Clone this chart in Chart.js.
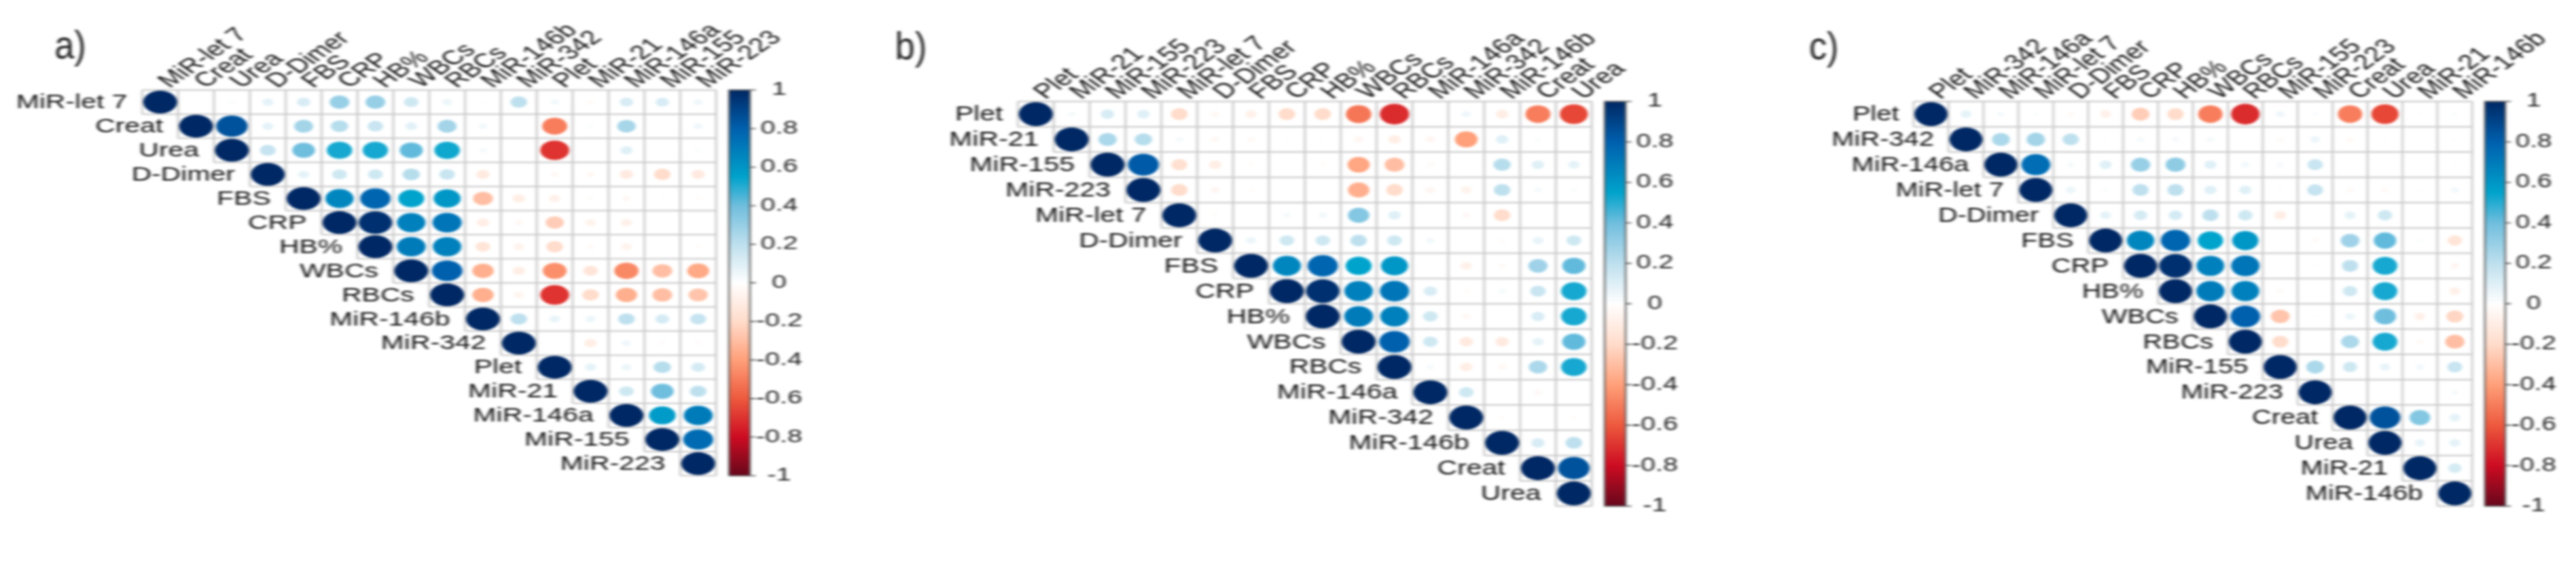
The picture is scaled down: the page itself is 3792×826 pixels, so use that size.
<!DOCTYPE html>
<html>
<head>
<meta charset="utf-8">
<style>
  html, body { margin: 0; padding: 0; background: #fff; }
  body { width: 3792px; height: 826px; overflow: hidden; position: relative; }
  .panel { position: absolute; transform-origin: 0 0; filter: blur(1.5px); }
</style>
<script src="https://cdn.jsdelivr.net/npm/chart.js@4"></script>
</head>
<body>
<script>
// variable order of each panel (hierarchical ordering differs per group)
const labelsA = ['MiR-let 7','Creat','Urea','D-Dimer','FBS','CRP','HB%','WBCs','RBCs','MiR-146b','MiR-342','Plet','MiR-21','MiR-146a','MiR-155','MiR-223'];
const labelsB = ['Plet','MiR-21','MiR-155','MiR-223','MiR-let 7','D-Dimer','FBS','CRP','HB%','WBCs','RBCs','MiR-146a','MiR-342','MiR-146b','Creat','Urea'];
const labelsC = ['Plet','MiR-342','MiR-146a','MiR-let 7','D-Dimer','FBS','CRP','HB%','WBCs','RBCs','MiR-155','MiR-223','Creat','Urea','MiR-21','MiR-146b'];

// upper triangles, each row starts on the diagonal
const valuesA = [
  [1,0,.02,.08,.12,.3,.3,.15,.06,-.01,.2,.04,-.03,.12,.12,.05],
  [1,.85,.08,.27,.22,.17,.09,.27,.04,0,-.5,.02,.26,-.005,.05],
  [1,.18,.4,.52,.52,.42,.53,.03,0,-.7,0,.1,-.01,.02],
  [1,.08,.15,.15,.22,.17,-.12,0,-.04,-.04,-.12,-.2,-.12],
  [1,.66,.78,.55,.6,-.3,-.1,-.08,-.02,-.04,-.01,-.02],
  [1,.97,.68,.72,-.1,-.04,-.25,-.07,-.08,0,-.005],
  [1,.7,.68,-.15,-.07,-.2,-.03,-.07,0,-.02],
  [1,.8,-.35,-.1,-.45,-.15,-.47,-.3,-.37],
  [1,-.35,-.06,-.7,-.2,-.35,-.3,-.28],
  [1,.2,.07,.06,.2,.13,.18],
  [1,.005,-.1,.05,-.02,-.02],
  [1,.08,.06,.22,.13],
  [1,.15,.4,.2],
  [1,.58,.7],
  [1,.76],
  [1]
];
const valuesB = [
  [1,.03,.12,.1,-.2,-.04,-.08,-.2,-.2,-.52,-.72,0,.05,-.1,-.5,-.65],
  [1,.25,.22,.03,-.04,-.03,-.01,-.01,-.05,-.1,-.05,-.4,.1,.02,-.01],
  [1,.82,-.18,-.1,-.02,0,-.02,-.38,-.3,-.03,0,.22,.1,.08],
  [1,-.2,-.05,-.02,0,0,-.35,-.2,-.05,-.07,.2,.03,.02],
  [1,-.02,0,.03,.04,.35,.1,-.01,-.04,-.2,0,0],
  [1,.06,.15,.15,.2,.15,.04,-.005,-.02,.07,.15],
  [1,.66,.78,.55,.6,.005,-.08,-.03,.28,.42],
  [1,.97,.68,.72,.12,-.02,.03,.17,.52],
  [1,.7,.68,.15,-.04,0,.12,.52],
  [1,.8,.15,-.12,-.12,.08,.42],
  [1,.03,-.1,-.04,.25,.52],
  [1,.15,0,-.04,0],
  [1,-.02,-.005,-.02],
  [1,.12,.2],
  [1,.85],
  [1]
];
const valuesC = [
  [1,.08,.03,.02,-.03,-.08,-.25,-.2,-.5,-.72,.05,.02,-.5,-.65,-.01,.02],
  [1,.25,.27,.2,-.01,.03,.03,.03,0,-.03,.06,-.03,-.01,0,.01],
  [1,.75,.03,.1,.3,.32,.1,.04,.03,.17,-.002,.005,0,.01],
  [1,.06,.02,.2,.2,.1,.1,.01,.18,-.03,-.03,-.01,.04],
  [1,.08,.13,.13,.2,.15,-.1,0,.08,.15,-.005,-.005],
  [1,.66,.78,.55,.6,-.01,-.03,.28,.42,.02,-.15],
  [1,.97,.68,.72,-.01,.01,.2,.52,0,-.05],
  [1,.7,.68,-.03,.005,.15,.52,0,-.08],
  [1,.8,-.28,.01,.06,.4,-.08,-.22],
  [1,-.2,0,.25,.52,-.03,-.3],
  [1,.25,.15,.07,.04,.17],
  [1,-.005,0,-.01,.03],
  [1,.85,.35,.08],
  [1,.07,.08],
  [1,.13],
  [1]
];
const colorbarTicks = [1,.8,.6,.4,.2,0,-.2,-.4,-.6,-.8,-1];
const panelTitles = ['a)','b)','c)'];

// colour ramp
const rampValues = [-1,-.8,-.6,-.4,-.2,0,.2,.4,.55,.8,1];
const rampColors = [[103,8,28],[205,12,34],[238,90,62],[255,160,122],[255,220,203],[255,255,255],[190,224,238],[112,190,222],[0,163,204],[0,96,174],[0,40,100]];

const CELL = 36, LEFT = 140, TOP = 120, N = 16;

function valueColor(v) {
  let i = 0;
  while (i < rampValues.length - 2 && v > rampValues[i + 1]) i++;
  const t = (v - rampValues[i]) / (rampValues[i + 1] - rampValues[i]);
  const c = rampColors[i].map((a, k) => Math.round(a + (rampColors[i + 1][k] - a) * t));
  return `rgb(${c[0]},${c[1]},${c[2]})`;
}

// staircase grid, row and column labels next to the triangle, colour bar, panel title
const corrPlugin = {
  id: 'corr',
  beforeDatasetsDraw(chart) {
    const { ctx, chartArea: a } = chart;
    const labels = chart.options.plugins.corr.labels;
    const x = chart.scales.x, y = chart.scales.y;
    const cw = (a.right - a.left) / N, ch = (a.bottom - a.top) / N;
    ctx.save();
    ctx.strokeStyle = '#c8c8c8';
    ctx.lineWidth = 2;
    ctx.beginPath();
    for (let i = 0; i <= N; i++) {
      const from = Math.max(i - 1, 0);
      ctx.moveTo(a.left + from * cw, a.top + i * ch);
      ctx.lineTo(a.right, a.top + i * ch);
      const to = Math.min(i + 1, N);
      ctx.moveTo(a.left + i * cw, a.top);
      ctx.lineTo(a.left + i * cw, a.top + to * ch);
    }
    ctx.stroke();
    ctx.fillStyle = '#111';
    ctx.font = '30px "Liberation Sans"';
    ctx.textBaseline = 'middle';
    ctx.textAlign = 'right';
    labels.forEach((l, i) => {
      ctx.save();
      ctx.translate(x.getPixelForTick(i) - 33, y.getPixelForTick(i) + 1);
      ctx.scale(.93, 1);
      ctx.fillText(l, 0, 0);
      ctx.restore();
    });
    ctx.textAlign = 'left';
    labels.forEach((l, i) => {
      ctx.save();
      ctx.translate(x.getPixelForTick(i) + 4, a.top - 8);
      ctx.rotate(-Math.PI / 4);
      ctx.scale(.93, 1);
      ctx.fillText(l, 0, 0);
      ctx.restore();
    });
    ctx.restore();
  },
  afterDraw(chart) {
    const { ctx } = chart;
    const opt = chart.options.plugins.corr;
    const s = chart.scales.y1;
    const bx = s.left + 13, bw = 21;
    const top = s.getPixelForValue(1), bottom = s.getPixelForValue(-1);
    const g = ctx.createLinearGradient(0, top, 0, bottom);
    rampValues.forEach(v => g.addColorStop((1 - v) / 2, valueColor(v)));
    ctx.save();
    ctx.fillStyle = g;
    ctx.fillRect(bx, top, bw, bottom - top);
    ctx.strokeStyle = '#555';
    ctx.lineWidth = 1.6;
    ctx.strokeRect(bx, top, bw, bottom - top);
    ctx.beginPath();
    colorbarTicks.forEach(v => {
      const p = s.getPixelForValue(v);
      ctx.moveTo(bx + bw, p);
      ctx.lineTo(bx + bw + 6, p);
    });
    ctx.stroke();
    // the panel letters are narrower than the stretched axis text
    ctx.translate(opt.titleX, opt.titleY);
    ctx.scale(0.9 / opt.sx, 1 / opt.sy);
    ctx.fillStyle = '#222';
    ctx.font = '58px "Liberation Sans"';
    ctx.textAlign = 'left';
    ctx.textBaseline = 'alphabetic';
    ctx.fillText(opt.title, 0, 0);
    ctx.restore();
  }
};

function triangle(labels, values) {
  const points = [];
  values.forEach((row, r) => row.forEach((v, k) => {
    points.push({ x: labels[r + k], y: labels[r], r: 17 * Math.pow(Math.abs(v), 0.44), v: v });
  }));
  return points;
}

function drawPanel(labels, values, title, gridLeft, gridTop, sx, sy, titleLeft) {
  // layout keeps 35px more than the bottom padding below the axes
  const W = LEFT + N * CELL + 100, H = TOP + N * CELL + 55;
  const box = document.createElement('div');
  box.className = 'panel';
  box.style.left = (gridLeft - LEFT * sx) + 'px';
  box.style.top = (gridTop - TOP * sy) + 'px';
  box.style.transform = `scale(${sx},${sy})`;
  box.style.width = W + 'px';
  box.style.height = H + 'px';
  const canvas = document.createElement('canvas');
  canvas.width = W;
  canvas.height = H;
  box.appendChild(canvas);
  document.body.appendChild(box);

  new Chart(canvas, {
    type: 'bubble',
    data: {
      datasets: [{
        data: triangle(labels, values),
        backgroundColor: c => valueColor(c.raw.v),
        borderWidth: 0,
        clip: false
      }]
    },
    options: {
      responsive: false,
      devicePixelRatio: 1,
      animation: false,
      layout: { padding: { left: LEFT, bottom: 20, top: 0, right: 0 } },
      plugins: {
        legend: { display: false },
        tooltip: { enabled: false },
        corr: {
          labels: labels, title: title, sx: sx, sy: sy,
          titleX: (titleLeft - (gridLeft - LEFT * sx)) / sx,
          titleY: (87 - (gridTop - TOP * sy)) / sy
        }
      },
      scales: {
        x: {
          type: 'category',
          labels: labels,
          offset: true,
          position: 'top',
          afterFit: s => { s.height = TOP; },
          grid: { display: false, drawTicks: false },
          border: { display: false },
          ticks: { display: false }
        },
        y: {
          type: 'category',
          labels: labels,
          offset: true,
          display: false
        },
        y1: {
          type: 'linear',
          position: 'right',
          min: -1,
          max: 1,
          afterFit: s => { s.width = 100; },
          grid: { display: false, drawTicks: false },
          border: { display: false },
          ticks: {
            stepSize: .2, padding: 40, crossAlign: 'center',
            color: '#222', font: { family: '"Liberation Sans"', size: 27 },
            callback: v => String(+v.toFixed(1))
          }
        }
      }
    },
    plugins: [corrPlugin]
  });
}

drawPanel(labelsA, valuesA, panelTitles[0], 209, 133, 52.8 / CELL, 569 / (N * CELL), 80);
drawPanel(labelsB, valuesB, panelTitles[1], 1498.6, 149.4, 52.8 / CELL, 597 / (N * CELL), 1318);
drawPanel(labelsC, valuesC, panelTitles[2], 2817, 149.4, 51.4 / CELL, 597 / (N * CELL), 2663);
</script>
</body>
</html>
